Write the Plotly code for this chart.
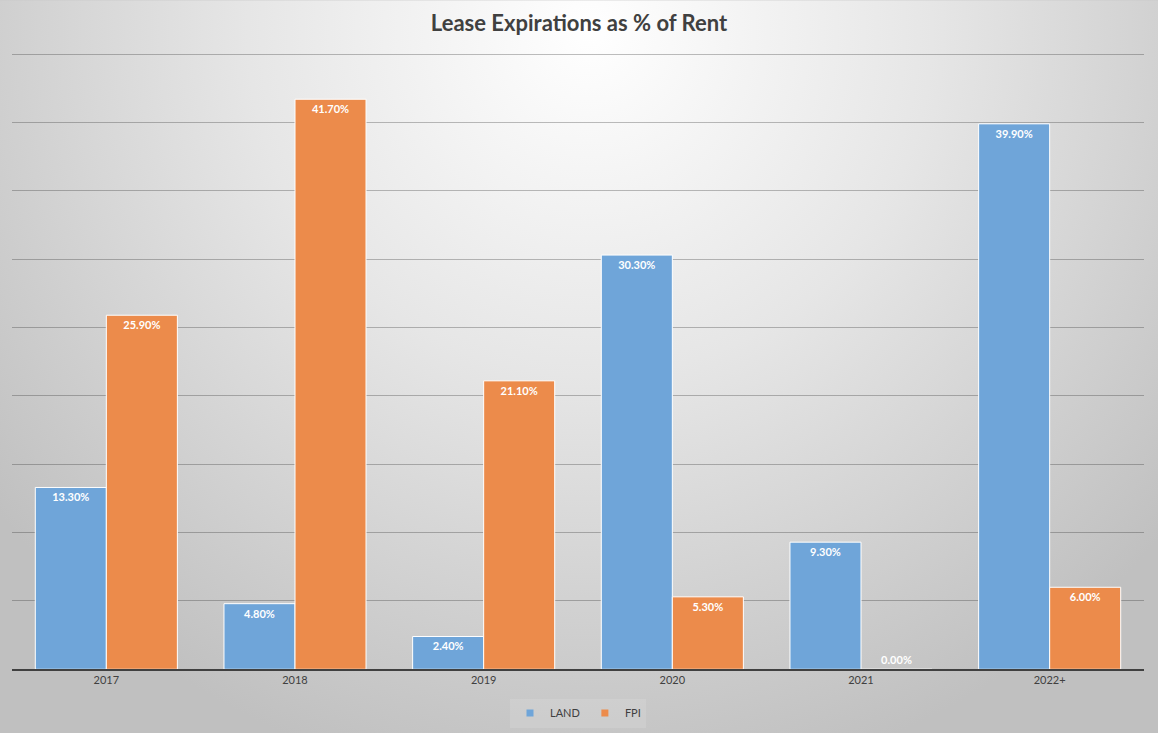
import base64
import plotly.graph_objects as go

years = ["2017", "2018", "2019", "2020", "2021", "2022+"]
land = [13.3, 4.8, 2.4, 30.3, 9.3, 39.9]
fpi = [25.9, 41.7, 21.1, 5.3, 0.0, 6.0]

W, H = 1158, 733
L, R, T, B = 12, 14, 50, 62
LAND_COLOR, FPI_COLOR = "#6FA5D9", "#EC8B4B"

# radial grey background like the Excel chart style
svg = f"""<svg xmlns="http://www.w3.org/2000/svg" width="{W}" height="{H}">
<defs><radialGradient id="g" gradientUnits="userSpaceOnUse" cx="590" cy="30" r="760">
<stop offset="0" stop-color="#ffffff"/><stop offset="0.45" stop-color="#e6e6e6"/>
<stop offset="1" stop-color="#c0c0c0"/></radialGradient></defs>
<rect width="{W}" height="{H}" fill="url(#g)"/></svg>"""
bg = "data:image/svg+xml;base64," + base64.b64encode(svg.encode()).decode()

def positions(vals):
    return ["outside" if v == 0 else "inside" for v in vals]

label_font = dict(color="white", size=11, family="Lato", weight="bold")

fig = go.Figure()
fig.add_bar(x=years, y=land, name="LAND", showlegend=False,
            marker=dict(color=LAND_COLOR, line=dict(color="white", width=1)),
            texttemplate="%{y:.2f}%", textposition=positions(land), insidetextanchor="end",
            textfont=label_font)
fig.add_bar(x=years, y=fpi, name="FPI", showlegend=False,
            marker=dict(color=FPI_COLOR, line=dict(color="white", width=1)),
            texttemplate="%{y:.2f}%", textposition=positions(fpi), insidetextanchor="end",
            textfont=label_font)
# small square legend keys, Excel style
for name, col in [("LAND", LAND_COLOR), ("FPI", FPI_COLOR)]:
    fig.add_scatter(x=[None], y=[None], mode="markers", name=name,
                    marker=dict(symbol="square", size=7, color=col))

pw, ph = W - L - R, H - T - B
fig.add_layout_image(source=bg, xref="x domain", yref="y domain", x=-L / pw, y=1 + T / ph,
                     sizex=W / pw, sizey=(H + 10) / ph, sizing="stretch", layer="below",
                     xanchor="left", yanchor="top")

fig.update_layout(
    width=W, height=H, margin=dict(l=L, r=R, t=T, b=B),
    paper_bgcolor="#c8c8c8", plot_bgcolor="rgba(0,0,0,0)",
    barmode="group", bargap=0.247, bargroupgap=0,
    title=dict(text="<b>Lease Expirations as % of Rent</b>", x=0.5, xanchor="center",
               y=1 - 23 / H, yanchor="middle",
               font=dict(family="Lato", size=22, color="#404040")),
    font=dict(family="Lato", size=11, color="#404040"),
    legend=dict(orientation="h", x=0.5, xanchor="center", yref="container",
                y=20 / H, yanchor="middle",
                bgcolor="rgba(255,255,255,0.12)", font=dict(size=11, color="#404040"),
                itemwidth=30, traceorder="normal", tracegroupgap=0),
)
fig.update_traces(cliponaxis=False)
fig.update_xaxes(showline=True, linecolor="#404040", linewidth=2, ticks="", tickfont=dict(size=11))
fig.update_yaxes(range=[0, 45.3], tick0=0, dtick=5, showticklabels=False,
                 gridcolor="rgba(40,40,40,0.3)", gridwidth=1, zeroline=False)

fig.write_html("out.html", config={"displayModeBar": False},
               post_script="document.body.style.margin='0';")
